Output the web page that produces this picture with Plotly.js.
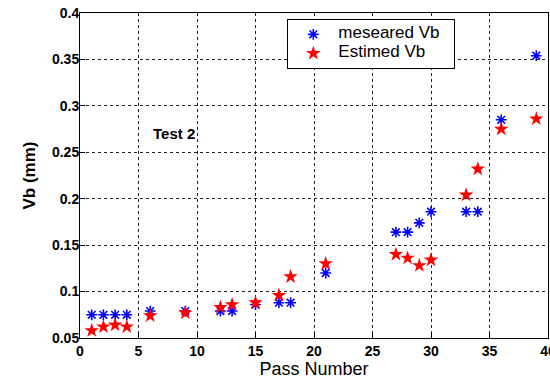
<!DOCTYPE html>
<html>
<head>
<meta charset="utf-8">
<script src="https://cdn.plot.ly/plotly-3.0.1.min.js"></script>
<style>html,body{margin:0;padding:0;background:#fff;}#chart{width:550px;height:381px;}</style>
</head>
<body>
<div id="chart"></div>
<script>
var passNumber = [1, 2, 3, 4, 6, 9, 12, 13, 15, 17, 18, 21, 27, 28, 29, 30, 33, 34, 36, 39];
var measuredVb = [0.075, 0.075, 0.075, 0.075, 0.079, 0.079, 0.079, 0.079, 0.086, 0.088, 0.088, 0.120, 0.164, 0.164, 0.174, 0.186, 0.186, 0.186, 0.285, 0.354];
var estimatedVb = [0.058, 0.062, 0.064, 0.062, 0.074, 0.077, 0.083, 0.086, 0.088, 0.096, 0.116, 0.130, 0.140, 0.136, 0.128, 0.134, 0.204, 0.232, 0.275, 0.286];
var xTicks = [0, 5, 10, 15, 20, 25, 30, 35, 40];
var yTicks = [0.05, 0.1, 0.15, 0.2, 0.25, 0.3, 0.35, 0.4];
var yTickText = ['0.05', '0.1', '0.15', '0.2', '0.25', '0.3', '0.35', '0.4'];
var seriesNames = ['meseared Vb', 'Estimed Vb'];

var FONT = 'Liberation Sans, Arial, sans-serif';
function big(s) { return '<span style="font-size:17px">' + s + '&nbsp;&nbsp;</span>'; }

var traces = [
  {x: passNumber, y: measuredVb, mode: 'markers', name: big(seriesNames[0]), type: 'scatter',
   marker: {symbol: 'asterisk-open', size: 9, color: '#0000ff', line: {color: '#0000ff', width: 1.6}}},
  {x: passNumber, y: estimatedVb, mode: 'markers', name: big(seriesNames[1]), type: 'scatter',
   marker: {symbol: 'star', size: 11, color: '#ff0000', line: {width: 0}}}
];

var axisCommon = {
  showline: true, linecolor: '#000', linewidth: 1, mirror: true,
  showgrid: true, gridcolor: '#222', griddash: '3px,3px', gridwidth: 1,
  ticks: 'inside', ticklen: 5, tickcolor: '#000', zeroline: false,
  ticklabeloverflow: 'allow', automargin: false,
  tickfont: {family: FONT, size: 14, color: '#000'}
};

var layout = {
  width: 550, height: 381,
  margin: {l: 80, r: 2, t: 13, b: 43},
  paper_bgcolor: '#fff', plot_bgcolor: '#fff',
  showlegend: true,
  legend: {x: 0.443, y: 0.982, xanchor: 'left', yanchor: 'top',
    bgcolor: '#fff', bordercolor: '#000', borderwidth: 1,
    font: {family: FONT, size: 10, color: '#000'},
    tracegroupgap: 0, itemwidth: 40},
  xaxis: Object.assign({}, axisCommon, {
    range: [0, 40], tickvals: xTicks, ticktext: xTicks.map(function (v) { return '<b>' + v + '</b>'; }),
    title: {text: 'Pass Number', standoff: 4, font: {family: FONT, size: 18, color: '#000'}}
  }),
  yaxis: Object.assign({}, axisCommon, {
    range: [0.05, 0.4], tickvals: yTicks, ticktext: yTickText.map(function (v) { return '<b>' + v + '</b>'; }),
    ticklabelstandoff: -3,
    title: {text: '<b>Vb (mm)</b>', standoff: 12, font: {family: FONT, size: 17, color: '#000'}}
  }),
  annotations: [{
    x: 6.1, y: 0.27, xref: 'x', yref: 'y', xanchor: 'left', yanchor: 'middle',
    text: '<b>Test 2</b>', showarrow: false,
    font: {family: FONT, size: 15, color: '#000'}
  }]
};

Plotly.newPlot('chart', traces, layout, {displayModeBar: false, staticPlot: true});
</script>
</body>
</html>
